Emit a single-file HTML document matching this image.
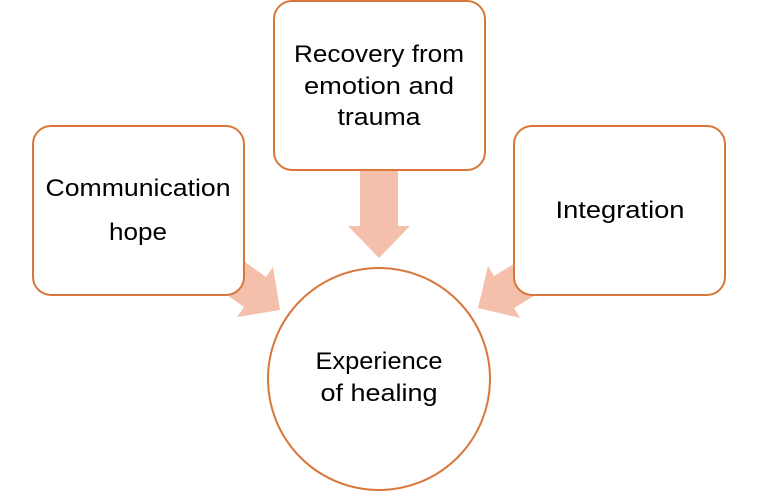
<!DOCTYPE html>
<html><head><style>html,body{margin:0;padding:0;background:#fff}svg{display:block}</style></head>
<body>
<svg width="758" height="491" viewBox="0 0 758 491" xmlns="http://www.w3.org/2000/svg" font-family="Liberation Sans, sans-serif" font-size="24" fill="#000">
<g fill="#f4c0ab">
<polygon points="360,160 398,160 398,226 410,226 379,258 348,226 360,226"/>
<polygon points="217,242 195,272 244,307 237,317 280,310 273,267 266,277"/>
<polygon points="565,277 545,245 494,276 488,266 478,308 520,318 514,308"/>
</g>
<g fill="#fff" stroke="#d9773a" stroke-width="2">
<rect x="33" y="126" width="211" height="169" rx="18"/>
<rect x="274" y="1" width="211" height="169" rx="18"/>
<rect x="514" y="126" width="211" height="169" rx="18"/>
<circle cx="379" cy="379" r="111"/>
</g>
<g text-anchor="middle">
<text x="379" y="62" textLength="170" lengthAdjust="spacingAndGlyphs">Recovery from</text>
<text x="379" y="94" textLength="150" lengthAdjust="spacingAndGlyphs">emotion and</text>
<text x="379" y="125" textLength="83" lengthAdjust="spacingAndGlyphs">trauma</text>
<text x="138" y="196" textLength="185" lengthAdjust="spacingAndGlyphs">Communication</text>
<text x="138" y="240" textLength="58" lengthAdjust="spacingAndGlyphs">hope</text>
<text x="620" y="218" textLength="129" lengthAdjust="spacingAndGlyphs">Integration</text>
<text x="379" y="369" textLength="127" lengthAdjust="spacingAndGlyphs">Experience</text>
<text x="379" y="401" textLength="117" lengthAdjust="spacingAndGlyphs">of healing</text>
</g>
</svg>
</body></html>
